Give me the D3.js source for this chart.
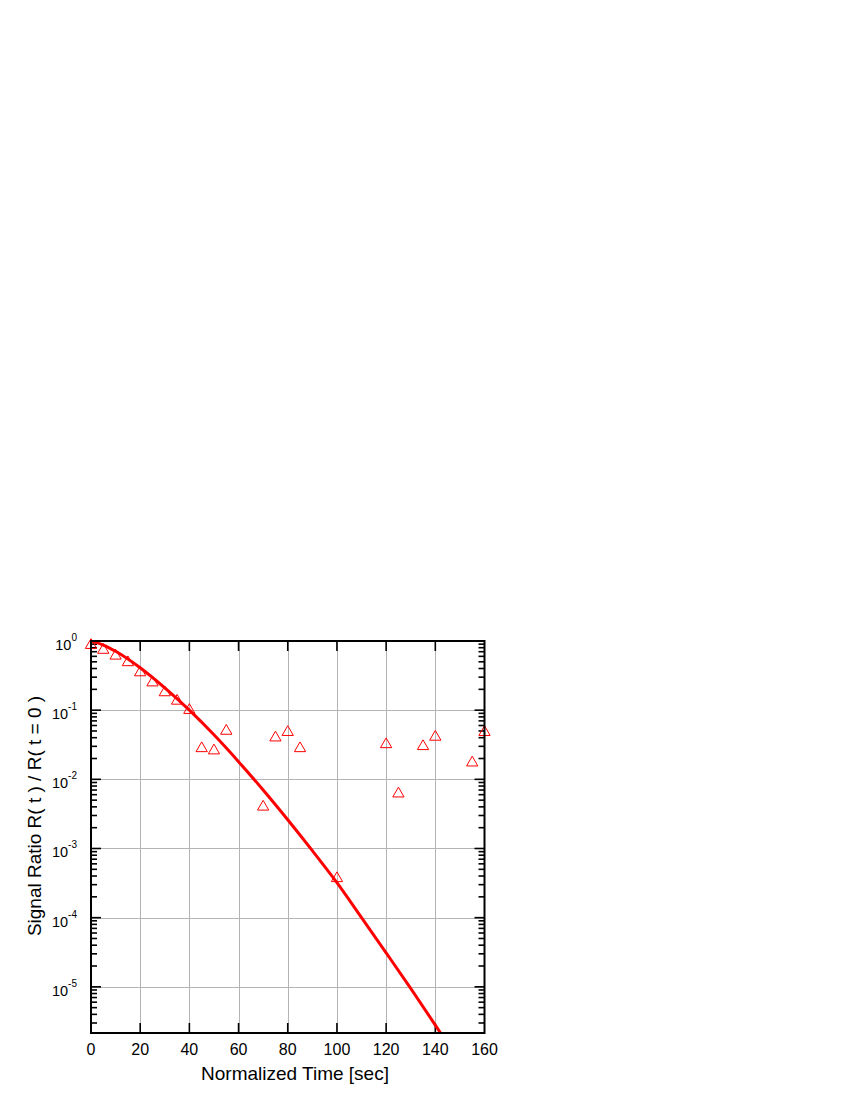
<!DOCTYPE html>
<html>
<head>
<meta charset="utf-8">
<script src="https://cdn.jsdelivr.net/npm/d3@7"></script>
<style>
  html, body { margin: 0; padding: 0; background: #fff; }
  svg text { font-family: "Liberation Sans", Arial, sans-serif; fill: #000; }
</style>
</head>
<body>
<div id="chart"></div>
<script>
// measured points (triangles)
const timeSec = [0, 5, 10, 15, 20, 25, 30, 35, 40, 45, 50, 55, 70, 75, 80, 85, 100, 120, 125, 135, 140, 155, 160];
const signalRatio = [0.87, 0.74, 0.61, 0.49, 0.35, 0.25, 0.18, 0.136, 0.10, 0.028, 0.026, 0.05, 0.0040, 0.040, 0.048, 0.028, 3.7e-4, 0.032, 0.0062, 0.030, 0.041, 0.0174, 0.048];

// fitted decay curve
const fitTime = [0, 5, 10, 20, 30, 40, 50, 60, 70, 80, 90, 100, 110, 120, 130, 140, 145];
const fitRatio = [1, 0.875, 0.71, 0.41, 0.21, 0.10, 0.044, 0.018, 0.0070, 0.0026, 9.3e-4, 3.2e-4, 1.0e-4, 3.1e-5, 9.5e-6, 2.8e-6, 1.5e-6];

// axes
const xTicks = [0, 20, 40, 60, 80, 100, 120, 140, 160];
const yDecades = [0, -1, -2, -3, -4, -5];
const xDomain = [0, 160];
const yDomain = [2.15e-6, 1];

const W = 850, H = 1100;
const L = 91, R = 484.5, T = 641, B = 1033;

const svg = d3.select('#chart').append('svg')
  .attr('width', W).attr('height', H)
  .attr('viewBox', [0, 0, W, H]);

const x = d3.scaleLinear().domain(xDomain).range([L, R]);
const y = d3.scaleLog().domain(yDomain).range([B, T]);

// grid
const grid = svg.append('g').attr('stroke', '#b4b4b4').attr('stroke-width', 1);
grid.selectAll('line.vx').data(xTicks.slice(1, -1)).join('line')
  .attr('x1', d => Math.round(x(d)) + 0.5).attr('x2', d => Math.round(x(d)) + 0.5)
  .attr('y1', T).attr('y2', B);
grid.selectAll('line.hy').data(yDecades.slice(1)).join('line')
  .attr('x1', L).attr('x2', R)
  .attr('y1', d => Math.round(y(Math.pow(10, d))) + 0.5)
  .attr('y2', d => Math.round(y(Math.pow(10, d))) + 0.5);

// ticks (inward)
const ticks = svg.append('g').attr('stroke', '#000').attr('stroke-width', 1.6);
const yAll = y.ticks().filter(v => v >= yDomain[0] && v <= yDomain[1]);
ticks.selectAll('line.yl').data(yAll).join('line')
  .attr('x1', L).attr('x2', d => L + (Number.isInteger(Math.log10(d)) ? 10 : 6))
  .attr('y1', d => y(d)).attr('y2', d => y(d));
ticks.selectAll('line.yr').data(yAll).join('line')
  .attr('x1', R).attr('x2', d => R - (Number.isInteger(Math.log10(d)) ? 10 : 6))
  .attr('y1', d => y(d)).attr('y2', d => y(d));
ticks.selectAll('line.xb').data(xTicks.slice(1, -1)).join('line')
  .attr('x1', d => x(d)).attr('x2', d => x(d))
  .attr('y1', B).attr('y2', B - 10);
ticks.selectAll('line.xt').data(xTicks.slice(1, -1)).join('line')
  .attr('x1', d => x(d)).attr('x2', d => x(d))
  .attr('y1', T).attr('y2', T + 10);

// clip for curve
svg.append('clipPath').attr('id', 'plot')
  .append('rect').attr('x', L).attr('y', T).attr('width', R - L).attr('height', B - T);

const line = d3.line()
  .x((d, i) => x(fitTime[i]))
  .y(d => y(d))
  .curve(d3.curveMonotoneX);

svg.append('path')
  .datum(fitRatio)
  .attr('clip-path', 'url(#plot)')
  .attr('fill', 'none')
  .attr('stroke', '#ff0000')
  .attr('stroke-width', 3)
  .attr('d', line);

// triangles
const tri = d3.symbol().type(d3.symbolTriangle).size(55);
svg.append('g').selectAll('path').data(signalRatio).join('path')
  .attr('d', tri)
  .attr('transform', (d, i) => `translate(${x(timeSec[i])},${y(d)})`)
  .attr('fill', 'none')
  .attr('stroke', '#ff0000')
  .attr('stroke-width', 1);

// frame
svg.append('rect')
  .attr('x', L).attr('y', T).attr('width', R - L).attr('height', B - T)
  .attr('fill', 'none').attr('stroke', '#000').attr('stroke-width', 2);

// x tick labels
svg.append('g').selectAll('text').data(xTicks).join('text')
  .attr('x', d => x(d)).attr('y', 1055)
  .attr('text-anchor', 'middle')
  .attr('font-size', 16)
  .text(d => d);

// y tick labels 10^n
const yl = svg.append('g').selectAll('text').data(yDecades).join('text')
  .attr('x', 77).attr('y', d => y(Math.pow(10, d)) + 9)
  .attr('text-anchor', 'end')
  .attr('font-size', 14.5);
yl.append('tspan').text('10');
yl.append('tspan').attr('font-size', 10).attr('dy', -9).text(d => d === 0 ? '0' : '-' + Math.abs(d));

// axis titles
svg.append('text')
  .attr('x', 295).attr('y', 1080)
  .attr('text-anchor', 'middle')
  .attr('font-size', 19)
  .text('Normalized Time [sec]');

svg.append('text')
  .attr('transform', 'translate(41,816) rotate(-90)')
  .attr('text-anchor', 'middle')
  .attr('font-size', 19)
  .text('Signal Ratio R( t ) / R( t = 0 )');
</script>
</body>
</html>
